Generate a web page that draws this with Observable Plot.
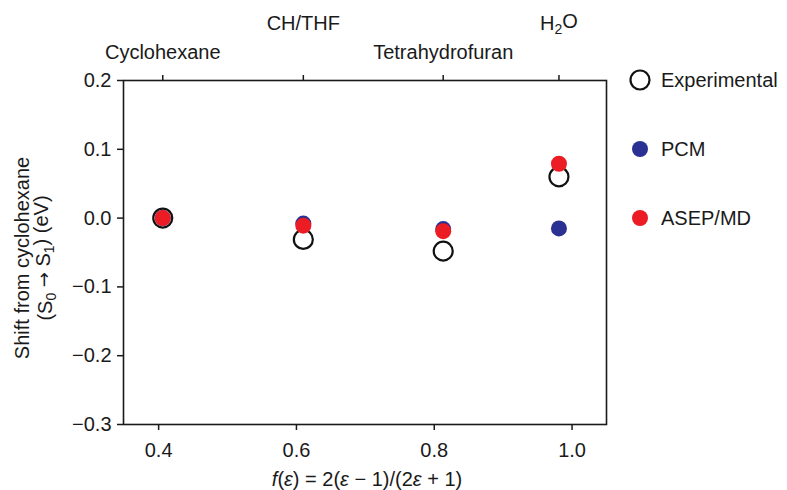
<!DOCTYPE html>
<html>
<head>
<meta charset="utf-8">
<script src="https://cdn.jsdelivr.net/npm/d3@7"></script>
<script src="https://cdn.jsdelivr.net/npm/@observablehq/plot@0.6"></script>
<style>
  html, body { margin: 0; padding: 0; background: #fff; }
  #chart { width: 787px; height: 490px; }
</style>
</head>
<body>
<div id="chart"></div>
<script>
// ---- data ----
const solvents = ["Cyclohexane", "CH/THF", "Tetrahydrofuran", "H2O"];
const fEps = [0.406, 0.610, 0.813, 0.981];
const experimental = [0.000, -0.031, -0.048, 0.060];
const pcm = [0.000, -0.008, -0.016, -0.015];
const asepmd = [0.000, -0.011, -0.019, 0.079];
const xTicks = [0.4, 0.6, 0.8, 1.0];
const yTicks = [-0.3, -0.2, -0.1, 0.0, 0.1, 0.2];
const seriesNames = ["Experimental", "PCM", "ASEP/MD"];

const BLUE = "#2b3192";
const RED = "#ec1c24";
const INK = "#1a1a1a";
const FONT = "'Liberation Sans', Arial, Helvetica, sans-serif";

const rows = solvents.map((s, i) => ({
  solvent: s, f: fEps[i], exp: experimental[i], pcm: pcm[i], asep: asepmd[i]
}));
const lowerX = fEps.filter((_, i) => i % 2 === 0);
const upperX = fEps.filter((_, i) => i % 2 === 1);
const nameOf = (d) => solvents[fEps.indexOf(d)];
const fmt = d3.format(".1f");

const svg = Plot.plot({
  width: 787,
  height: 490,
  marginLeft: 123,
  marginRight: 181,
  marginTop: 80,
  marginBottom: 66,
  style: { fontFamily: FONT, fontSize: "20px", color: INK, background: "#fff" },
  x: { domain: [0.349, 1.050] },
  y: { domain: [-0.3, 0.2] },
  marks: [
    Plot.frame({ stroke: INK, strokeWidth: 1.6 }),
    Plot.axisY({ ticks: yTicks, tickSize: 6, tickPadding: 6, tickFormat: fmt, label: null, strokeWidth: 1.5 }),
    Plot.axisX({ ticks: xTicks, tickSize: 6, tickPadding: 12, tickFormat: fmt, label: null, strokeWidth: 1.5 }),
    Plot.axisX({ anchor: "top", ticks: lowerX, tickSize: 6, tickPadding: 16, tickFormat: nameOf, label: null, strokeWidth: 1.5 }),
    Plot.axisX({ anchor: "top", ticks: upperX, tickSize: 6, tickPadding: 45, tickFormat: nameOf, label: null, strokeWidth: 1.5 }),
    Plot.dot(rows, { x: "f", y: "exp", r: 9.5, stroke: "#111", strokeWidth: 2.2, fill: "none" }),
    Plot.dot(rows, { x: "f", y: "pcm", r: 8, fill: BLUE }),
    Plot.dot(rows, { x: "f", y: "asep", r: 8, fill: RED })
  ]
});

const root = d3.select(svg);

// H2O with a real subscript
root.selectAll("text").filter(function () { return this.textContent === "H2O"; })
  .each(function () {
    const t = d3.select(this);
    t.text("");
    t.append("tspan").text("H");
    t.append("tspan").attr("dy", "0.3em").attr("font-size", "14px").text("2");
    t.append("tspan").attr("dy", "-0.3em").text("O");
  });

// x-axis title
const xl = root.append("text")
  .attr("x", 367).attr("y", 486)
  .attr("text-anchor", "middle")
  .attr("fill", INK).attr("font-size", "20px").attr("font-family", FONT);
xl.append("tspan").attr("font-style", "italic").text("f");
xl.append("tspan").text("(");
xl.append("tspan").attr("font-style", "italic").text("ε");
xl.append("tspan").text(") = 2(");
xl.append("tspan").attr("font-style", "italic").text("ε");
xl.append("tspan").text(" − 1)/(2");
xl.append("tspan").attr("font-style", "italic").text("ε");
xl.append("tspan").text(" + 1)");

// y-axis title (two lines)
const yl = root.append("g").attr("transform", "translate(0,258) rotate(-90)")
  .attr("fill", INK).attr("font-size", "20px").attr("font-family", FONT)
  .attr("text-anchor", "middle");
yl.append("text").attr("x", 0).attr("y", 29).text("Shift from cyclohexane");
const l2 = yl.append("text").attr("x", 0).attr("y", 52);
l2.append("tspan").text("(S");
l2.append("tspan").attr("dy", "0.3em").attr("font-size", "14px").text("0");
l2.append("tspan").attr("dy", "-0.3em").text(" ");
l2.append("tspan").attr("font-family", "'DejaVu Sans', sans-serif").attr("font-size", "18px").text("→");
l2.append("tspan").text(" S");
l2.append("tspan").attr("dy", "0.3em").attr("font-size", "14px").text("1");
l2.append("tspan").attr("dy", "-0.3em").text(") (eV)");

// legend
const styles = [
  { fill: "none", stroke: "#111", r: 9.5, sw: 2.2 },
  { fill: BLUE, stroke: "none", r: 8, sw: 0 },
  { fill: RED, stroke: "none", r: 8, sw: 0 }
];
const lg = root.append("g").attr("font-family", FONT).attr("font-size", "20px")
  .attr("fill", INK).attr("text-anchor", "start");
seriesNames.forEach((name, i) => {
  const cy = 80 + i * 69;
  const s = styles[i];
  lg.append("circle").attr("cx", 640).attr("cy", cy).attr("r", s.r)
    .attr("fill", s.fill).attr("stroke", s.stroke).attr("stroke-width", s.sw);
  lg.append("text").attr("x", 661).attr("y", cy).attr("dy", "0.36em")
    .attr("text-anchor", "start").text(name);
});

document.getElementById("chart").appendChild(svg);
</script>
</body>
</html>
